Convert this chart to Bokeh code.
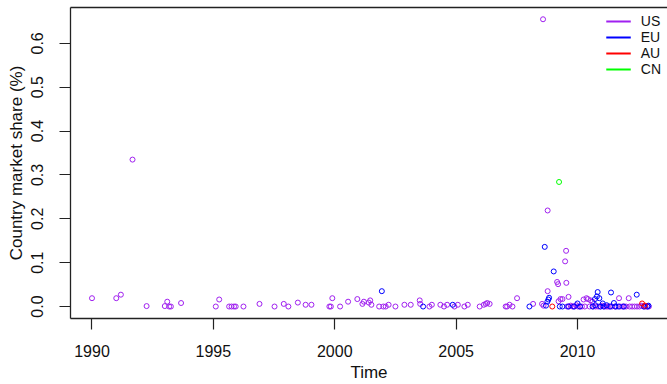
from bokeh.plotting import figure
from bokeh.models import (LinearAxis, FixedTicker, NumeralTickFormatter, Range1d,
                          Legend, LegendItem, ColumnDataSource)
from bokeh.embed import file_html
from bokeh.resources import INLINE

# ---------------- data ----------------
series_names = ["US", "EU", "AU", "CN"]
series_colors = ["#A020F0", "#0000FF", "#FF0000", "#00FF00"]

us_time = [1990.00, 1991.00, 1991.19, 1991.67, 1992.25, 1993.00, 1993.10, 1993.18, 1993.25, 1993.67,
           1995.10, 1995.24, 1995.65, 1995.75, 1995.85, 1995.92, 1996.24, 1996.90, 1997.52, 1997.90,
           1998.09, 1998.48, 1998.80, 1999.04, 1999.78, 1999.84, 1999.90, 2000.22, 2000.55, 2000.93,
           2001.14, 2001.20, 2001.40, 2001.46, 2001.51, 2001.83, 2002.00, 2002.10, 2002.22, 2002.50,
           2002.87, 2003.13, 2003.50, 2003.52, 2003.90, 2004.00, 2004.35, 2004.50, 2004.63, 2004.93,
           2005.07, 2005.34, 2005.48, 2005.97, 2006.14, 2006.22, 2006.28, 2006.38, 2007.04, 2007.10,
           2007.20, 2007.32, 2007.51, 2008.17, 2008.54, 2008.58, 2008.60, 2008.77, 2008.77, 2009.16,
           2009.20, 2009.22, 2009.30, 2009.38, 2009.49, 2009.53, 2009.54, 2009.63, 2009.57, 2009.65,
           2009.72, 2009.80, 2009.88, 2009.95, 2010.02, 2010.10, 2010.18, 2010.25, 2010.30, 2010.37,
           2010.43, 2010.50, 2010.54, 2010.62, 2010.65, 2010.75, 2010.85, 2010.95, 2011.02, 2011.10,
           2011.18, 2011.25, 2011.32, 2011.42, 2011.55, 2011.62, 2011.71, 2011.75, 2011.85, 2011.92,
           2012.00, 2012.11, 2012.15, 2012.25, 2012.35, 2012.45, 2012.55, 2012.62, 2012.72, 2012.80,
           2012.88, 2012.94]
us_share = [0.019, 0.019, 0.027, 0.335, 0.001, 0.001, 0.011, 0.000, 0.000, 0.008,
            0.000, 0.016, 0.000, 0.000, 0.000, 0.000, 0.000, 0.006, 0.000, 0.006,
            0.000, 0.009, 0.004, 0.004, 0.000, 0.000, 0.019, 0.000, 0.011, 0.017,
            0.006, 0.011, 0.009, 0.014, 0.004, 0.000, 0.000, 0.000, 0.004, 0.000,
            0.004, 0.004, 0.014, 0.006, 0.000, 0.004, 0.004, 0.000, 0.004, 0.000,
            0.004, 0.000, 0.004, 0.000, 0.004, 0.006, 0.008, 0.006, 0.000, 0.000,
            0.004, 0.000, 0.019, 0.006, 0.006, 0.655, 0.002, 0.219, 0.035, 0.056,
            0.051, 0.012, 0.017, 0.017, 0.103, 0.127, 0.054, 0.022, 0.000, 0.000,
            0.002, 0.000, 0.000, 0.003, 0.000, 0.000, 0.000, 0.016, 0.000, 0.019,
            0.017, 0.000, 0.014, 0.011, 0.000, 0.000, 0.000, 0.000, 0.002, 0.000,
            0.000, 0.000, 0.000, 0.000, 0.000, 0.000, 0.019, 0.000, 0.000, 0.000,
            0.000, 0.019, 0.000, 0.000, 0.000, 0.000, 0.000, 0.002, 0.000, 0.000,
            0.000, 0.000]

eu_time = [2001.94, 2003.64, 2004.86, 2008.02, 2008.65, 2008.76, 2008.80, 2008.83, 2008.70, 2009.02,
           2009.27, 2009.38, 2009.62, 2009.85, 2010.00, 2010.10, 2010.62, 2010.72, 2010.73, 2010.80,
           2010.83, 2010.90, 2010.94, 2011.04, 2011.08, 2011.20, 2011.35, 2011.38, 2011.50, 2011.56,
           2011.70, 2011.90, 2012.44, 2012.74, 2012.88, 2012.92]
eu_share = [0.035, 0.000, 0.004, 0.000, 0.136, 0.011, 0.016, 0.020, 0.002, 0.080,
            0.000, 0.000, 0.000, 0.000, 0.007, 0.000, 0.000, 0.017, 0.003, 0.023,
            0.033, 0.019, 0.000, 0.007, 0.000, 0.003, 0.000, 0.032, 0.008, 0.000,
            0.000, 0.000, 0.027, 0.000, 0.000, 0.002]

au_time = [2008.96, 2012.66, 2012.78]
au_share = [0.000, 0.007, 0.002]

cn_time = [2009.24]
cn_share = [0.284]

y_ticks = [0.0, 0.1, 0.2, 0.3, 0.4, 0.5, 0.6]
x_ticks = [1990, 1995, 2000, 2005, 2010]

# ---------------- figure ----------------
FONT = "Liberation Sans"

p = figure(width=667, height=384, output_backend="svg", toolbar_location=None,
           x_range=Range1d(1989.115, 2013.707), y_range=Range1d(-0.0273, 0.6818),
           x_axis_label="Time", y_axis_label="Country market share (%)",
           min_border_left=70, min_border_right=0, min_border_top=7, min_border_bottom=65)
p.outline_line_color = None
p.grid.visible = False
p.background_fill_color = "white"
p.border_fill_color = "white"

for ax in (p.xaxis[0], p.yaxis[0]):
    ax.axis_line_color = "#222222"
    ax.axis_line_width = 1.3
    ax.major_tick_line_color = "#222222"
    ax.major_tick_line_width = 1.2
    ax.major_tick_out = 11
    ax.major_tick_in = 0
    ax.minor_tick_out = 0
    ax.minor_tick_in = 0
    ax.major_label_text_font = FONT
    ax.major_label_text_font_size = "16px"
    ax.major_label_text_color = "#111111"
    ax.axis_label_text_font = FONT
    ax.axis_label_text_font_size = "17px"
    ax.axis_label_text_font_style = "normal"
    ax.axis_label_text_color = "#111111"

p.xaxis[0].ticker = FixedTicker(ticks=x_ticks)
p.xaxis[0].major_label_standoff = 15
p.xaxis[0].axis_label_standoff = 3

p.yaxis[0].ticker = FixedTicker(ticks=y_ticks)
p.yaxis[0].formatter = NumeralTickFormatter(format="0.0")
p.yaxis[0].major_label_orientation = "vertical"
p.yaxis[0].major_label_standoff = 16
p.yaxis[0].axis_label_standoff = 3

top_axis = LinearAxis(ticker=FixedTicker(ticks=[]), major_label_text_font_size="0px",
                      major_tick_out=0, major_tick_in=0, minor_tick_out=0, minor_tick_in=0,
                      axis_line_color="#222222", axis_line_width=1.3)
p.add_layout(top_axis, "above")

all_t = [us_time, eu_time, au_time, cn_time]
all_v = [us_share, eu_share, au_share, cn_share]
items = []
for name, col, t, v in zip(series_names, series_colors, all_t, all_v):
    src = ColumnDataSource(dict(t=t, v=v))
    p.scatter("t", "v", source=src, marker="circle", size=5, fill_color=None,
              line_color=col, line_width=1.0)
    # zero-length line used only as the legend swatch
    r = p.line(x=[t[0], t[0]], y=[v[0], v[0]], line_color=col, line_width=2)
    items.append(LegendItem(label=name, renderers=[r]))

legend = Legend(items=items, location="top_right", margin=6, padding=6,
                spacing=0, label_height=16, glyph_height=16, glyph_width=25,
                label_standoff=10, label_text_font=FONT, label_text_font_size="14px",
                label_text_color="#111111", background_fill_alpha=0,
                border_line_color=None)
p.add_layout(legend)

open("out.html", "w").write(file_html(p, INLINE))
